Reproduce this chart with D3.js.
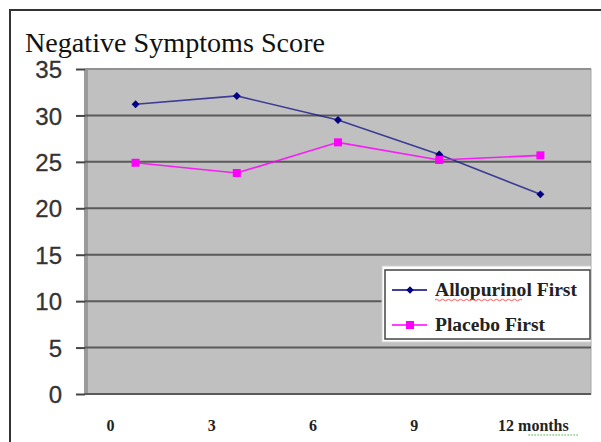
<!DOCTYPE html>
<html><head><meta charset="utf-8">
<script src="https://cdn.jsdelivr.net/npm/d3@7"></script>
<style>body{margin:0;background:#fff}svg{display:block}</style>
</head><body>
<script>
const categories = ["0","3","6","9","12"];
const xLabels = ["0","3","6","9","12 months"];
const allopurinolFirst = [31.2, 32.1, 29.5, 25.8, 21.5];
const placeboFirst = [24.9, 23.8, 27.1, 25.2, 25.7];
const yTicks = [0,5,10,15,20,25,30,35];
const seriesNames = ["Allopurinol First","Placebo First"];

const W=601,H=442;
const svg=d3.select("body").append("svg").attr("width",W).attr("height",H);
const L=85,R=591,T=69,B=394;
const x=d3.scaleBand().domain(categories).range([L,R]);
const y=d3.scaleLinear().domain([0,35]).range([B,T]);

// frame
svg.append("line").attr("x1",10).attr("x2",W).attr("y1",10).attr("y2",10).attr("stroke","#333").attr("stroke-width",2);
svg.append("line").attr("x1",10).attr("x2",10).attr("y1",9).attr("y2",H).attr("stroke","#333").attr("stroke-width",2);

svg.append("text").attr("x",25).attr("y",52).attr("font-family","Liberation Serif, serif")
 .attr("font-size",28).attr("fill","#111").attr("textLength",300).attr("lengthAdjust","spacingAndGlyphs")
 .text("Negative Symptoms Score");

// plot area
svg.append("rect").attr("x",L).attr("y",T).attr("width",R-L).attr("height",B-T).attr("fill","#c0c0c0")
 .attr("stroke","#a8a8a8").attr("stroke-width",1);
svg.append("rect").attr("x",L-1).attr("y",T).attr("width",4).attr("height",B-T).attr("fill","#9a9a9a");

// gridlines
svg.append("g").selectAll("line").data(yTicks).join("line")
 .attr("x1",L).attr("x2",R).attr("y1",d=>y(d)).attr("y2",d=>y(d))
 .attr("stroke",d=>d===35?"#909090":"#5a5a5a").attr("stroke-width",2);

// y axis
const ya=svg.append("g").attr("transform",`translate(${L},0)`)
 .call(d3.axisLeft(y).tickValues(yTicks).tickSize(9).tickPadding(14));
ya.select(".domain").remove();
ya.selectAll("line").attr("stroke","#444").attr("stroke-width",2);
ya.selectAll("text").attr("font-family","Liberation Sans, Arial, sans-serif").attr("font-size",24)
 .attr("fill","#333").attr("stroke","#333").attr("stroke-width",0.3).attr("dy","0.36em");

// x labels
const xa=svg.append("g");
xa.selectAll("text").data(categories).join("text")
 .attr("x",(d,i)=>x(d)+x.bandwidth()/2+(i===4?-7:-25)).attr("y",431)
 .attr("text-anchor","middle").attr("font-family","Liberation Serif, serif").attr("font-weight","bold")
 .attr("font-size",16).attr("fill","#222").text((d,i)=>xLabels[i]);
// green dotted underline under "months"
svg.append("line").attr("x1",x("12")+x.bandwidth()/2-12).attr("x2",x("12")+x.bandwidth()/2+38)
 .attr("y1",435).attr("y2",435).attr("stroke","#3cb043").attr("stroke-width",1.2).attr("stroke-dasharray","1.5,1.5");

const cx=d=>x(d)+x.bandwidth()/2;
const line=d3.line().x((v,i)=>cx(categories[i])).y(v=>y(v));
const colors=["#000080","#ff00ff"];
svg.append("path").attr("d",line(allopurinolFirst)).attr("fill","none").attr("stroke","#1a1a8a").attr("stroke-width",1.6).attr("opacity",0.8);
svg.append("path").attr("d",line(placeboFirst)).attr("fill","none").attr("stroke","#ff00ff").attr("stroke-width",1.6).attr("opacity",0.85);
svg.append("g").selectAll("path").data(allopurinolFirst).join("path")
 .attr("d",d3.symbol(d3.symbolDiamond2,40)).attr("transform",(v,i)=>`translate(${cx(categories[i])},${y(v)})`)
 .attr("fill","#000080");
svg.append("g").selectAll("rect").data(placeboFirst).join("rect")
 .attr("x",(v,i)=>cx(categories[i])-4).attr("y",v=>y(v)-4).attr("width",8).attr("height",8).attr("fill","#ff00ff");

// legend
const lg=svg.append("g");
lg.append("rect").attr("x",382).attr("y",266).attr("width",209).attr("height",76).attr("fill","#fff").attr("stroke","#d0d0d0");
lg.append("rect").attr("x",385).attr("y",270).attr("width",205).attr("height",69).attr("fill","#fff").attr("stroke","#444").attr("stroke-width",1.5);
const ly=[290,325];
const lw=[142,110];
seriesNames.forEach((n,i)=>{
  lg.append("line").attr("x1",392).attr("x2",427).attr("y1",ly[i]).attr("y2",ly[i]).attr("stroke",colors[i]).attr("stroke-width",1.3);
  if(i===0) lg.append("path").attr("d",d3.symbol(d3.symbolDiamond2,36)()).attr("transform",`translate(410,${ly[i]})`).attr("fill",colors[i]);
  else lg.append("rect").attr("x",406).attr("y",ly[i]-4).attr("width",8).attr("height",8).attr("fill",colors[i]);
  lg.append("text").attr("x",435).attr("y",ly[i]+6).attr("font-family","Liberation Serif, serif").attr("font-weight","bold")
   .attr("font-size",18).attr("fill","#222").attr("textLength",lw[i]).attr("lengthAdjust","spacingAndGlyphs").text(n);
});
lg.append("path").attr("d","M435,300 q1.5,-1.5 3,0 t3,0 t3,0 t3,0 t3,0 t3,0 t3,0 t3,0 t3,0 t3,0 t3,0 t3,0 t3,0 t3,0 t3,0 t3,0 t3,0 t3,0 t3,0 t3,0 t3,0 t3,0 t3,0 t3,0 t3,0 t3,0 t3,0 t3,0 t3,0")
 .attr("fill","none").attr("stroke","#ff4040").attr("stroke-width",0.9);
</script>
</body></html>
